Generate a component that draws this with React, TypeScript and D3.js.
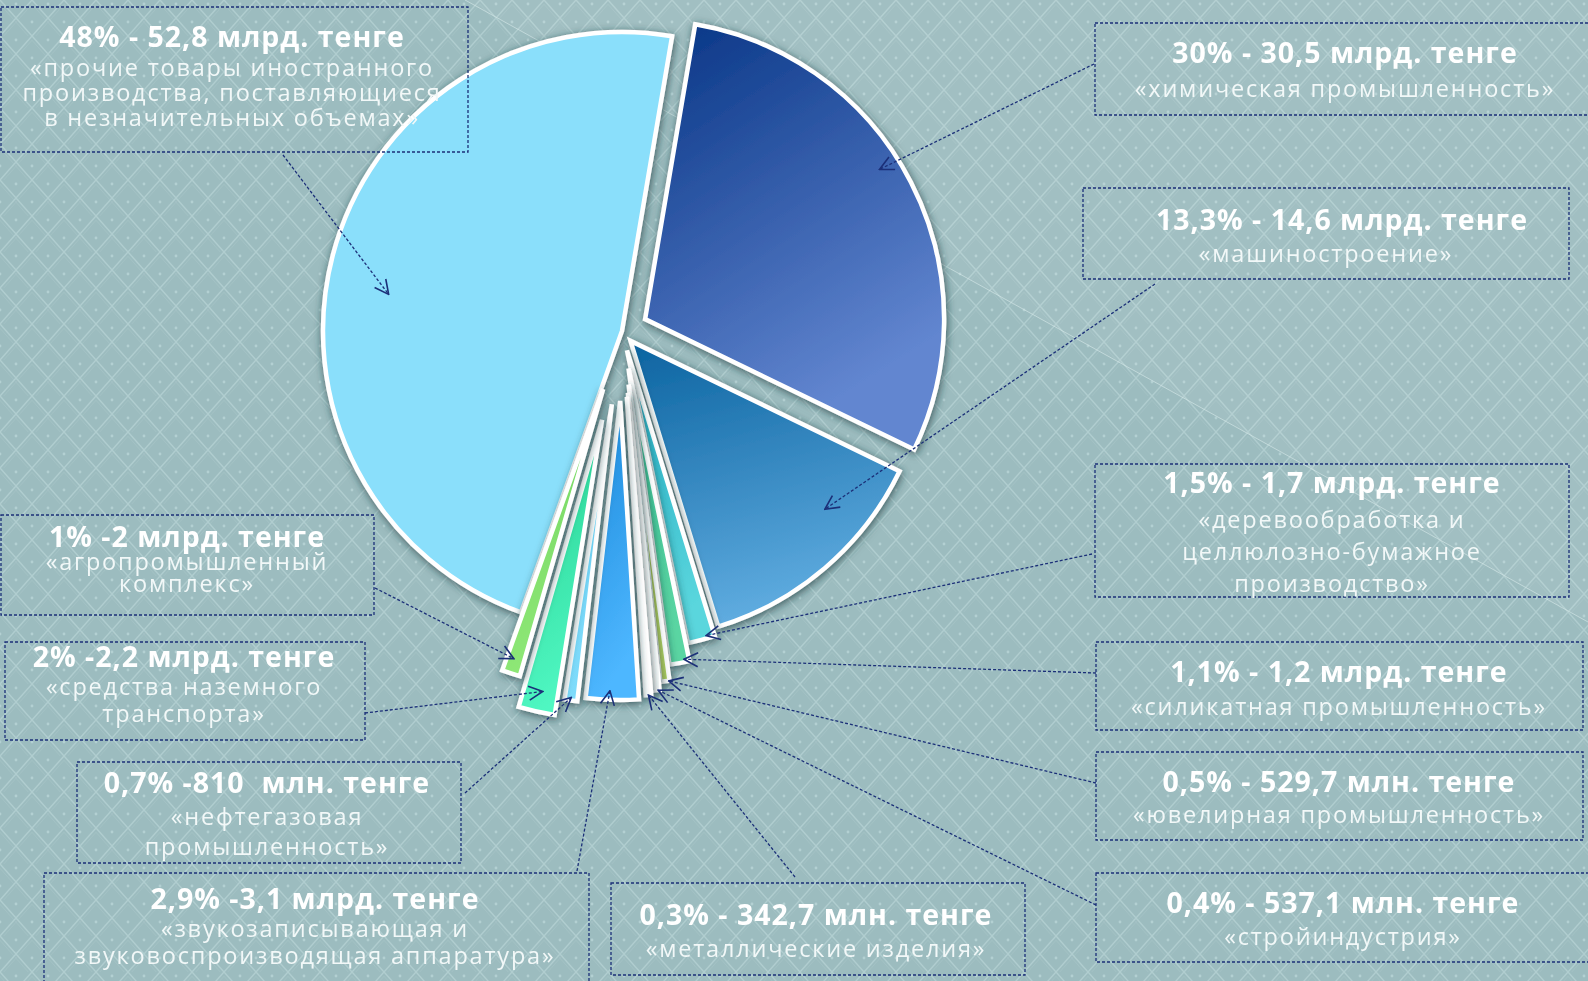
import React from 'react';
import * as d3 from 'd3';

const W = 1588;
const H = 981;

// ---- data ----
const categories = [
  'химическая промышленность',
  'машиностроение',
  'деревообработка и целлюлозно-бумажное производство',
  'силикатная промышленность',
  'ювелирная промышленность',
  'стройиндустрия',
  'металлические изделия',
  'звукозаписывающая и звуковоспроизводящая аппаратура',
  'нефтегазовая промышленность',
  'средства наземного транспорта',
  'агропромышленный комплекс',
  'прочие товары иностранного производства',
];
const percentValues = [30, 13.3, 1.5, 1.1, 0.5, 0.4, 0.3, 2.9, 0.7, 2, 1, 48];
const titleLabels = [
  '30% - 30,5 млрд. тенге',
  '13,3% - 14,6 млрд. тенге',
  '1,5% - 1,7 млрд. тенге',
  '1,1% - 1,2 млрд. тенге',
  '0,5% - 529,7 млн. тенге',
  '0,4% - 537,1 млн. тенге',
  '0,3% - 342,7 млн. тенге',
  '2,9% -3,1 млрд. тенге',
  '0,7% -810  млн. тенге',
  '2% -2,2 млрд. тенге',
  '1% -2 млрд. тенге',
  '48% - 52,8 млрд. тенге',
];
const descLines = [
  ['«химическая промышленность»'],
  ['«машиностроение»'],
  ['«деревообработка и', 'целлюлозно-бумажное', 'производство»'],
  ['«силикатная промышленность»'],
  ['«ювелирная промышленность»'],
  ['«стройиндустрия»'],
  ['«металлические изделия»'],
  ['«звукозаписывающая и', 'звуковоспроизводящая аппаратура»'],
  ['«нефтегазовая', 'промышленность»'],
  ['«средства наземного', 'транспорта»'],
  ['«агропромышленный', 'комплекс»'],
  ['«прочие товары иностранного', 'производства, поставляющиеся', 'в незначительных объемах»'],
];

// ---- styling / layout ----
const CX = 622;
const CY = 331;
const R = 299;
const START_DEG = 9.65;
const explode = [26, 13, 20, 38, 54, 62, 66, 70, 74, 91, 61, 0];
const gradStops: [string, string][] = [
  ['#0d3a8a', '#6286d0'],
  ['#0b63a0', '#5eabdf'],
  ['#1fa8c0', '#5ad6dd'],
  ['#36bd93', '#5ad5a2'],
  ['#9bbd44', '#b2cf5e'],
  ['#f6fbf4', '#ffffff'],
  ['#eef8fc', '#ffffff'],
  ['#1786d8', '#4eb7ff'],
  ['#63cdf5', '#7fdcfb'],
  ['#20cc8c', '#50f7c2'],
  ['#6ed25e', '#8fe877'],
  ['#8adffb', '#8adffb'],
];
const drawOrder = [11, 0, 1, 2, 3, 4, 5, 6, 7, 8, 9, 10];

type Box = {
  x: number; y: number; w: number; h: number;
  cx: number; titleY: number; descY: number[]; descCx?: number;
  from: [number, number]; tipFrac: number; tipR: number;
};
const boxes: Box[] = [
  { x: 1095, y: 23, w: 500, h: 92, cx: 1345, titleY: 63, descY: [97], from: [1094, 64], tipFrac: 0.45, tipR: 0.93 },
  { x: 1083, y: 188, w: 486, h: 91, cx: 1342, titleY: 230, descY: [262], descCx: 1326, from: [1155, 284], tipFrac: 0.32, tipR: 0.86 },
  { x: 1095, y: 464, w: 474, h: 133, cx: 1332, titleY: 493, descY: [528, 560, 592], from: [1092, 554], tipFrac: 0.3, tipR: 0.99 },
  { x: 1096, y: 642, w: 487, h: 88, cx: 1339, titleY: 682, descY: [715], from: [1096, 673], tipFrac: 0.25, tipR: 0.99 },
  { x: 1096, y: 752, w: 487, h: 88, cx: 1339, titleY: 792, descY: [823], from: [1096, 783], tipFrac: 0.1, tipR: 1.0 },
  { x: 1096, y: 873, w: 500, h: 89, cx: 1343, titleY: 913, descY: [945], from: [1096, 905], tipFrac: 0.2, tipR: 1.0 },
  { x: 611, y: 883, w: 414, h: 92, cx: 816, titleY: 925, descY: [957], from: [795, 877], tipFrac: 0.5, tipR: 1.0 },
  { x: 44, y: 873, w: 545, h: 120, cx: 315, titleY: 909, descY: [937, 964], from: [577, 871], tipFrac: 0.55, tipR: 0.97 },
  { x: 77, y: 762, w: 384, h: 101, cx: 267, titleY: 793, descY: [825, 855], from: [465, 793], tipFrac: 0.5, tipR: 0.99 },
  { x: 5, y: 642, w: 360, h: 98, cx: 184, titleY: 667, descY: [695, 722], from: [365, 713], tipFrac: 0.45, tipR: 0.93 },
  { x: 1, y: 515, w: 373, h: 100, cx: 187, titleY: 547, descY: [570, 592], from: [375, 588], tipFrac: 0.6, tipR: 0.95 },
  { x: 1, y: 7, w: 467, h: 145, cx: 232, titleY: 47, descY: [76, 101, 126], from: [283, 155], tipFrac: 0.466, tipR: 0.79 },
];

const FONT = '"Open Sans", "DejaVu Sans", sans-serif';
const LINE = '#1b2f78';

export default function App() {
  const pie = d3
    .pie<number>()
    .sort(null)
    .value((d) => d)
    .startAngle((START_DEG * Math.PI) / 180)
    .endAngle((START_DEG * Math.PI) / 180 + 2 * Math.PI);
  const arcs = pie(percentValues);
  const arc = d3.arc<d3.PieArcDatum<number>>().innerRadius(0).outerRadius(R);

  const centers = arcs.map((a, i) => {
    const mid = (a.startAngle + a.endAngle) / 2;
    return [CX + explode[i] * Math.sin(mid), CY - explode[i] * Math.cos(mid)];
  });

  const tips = arcs.map((a, i) => {
    const b = boxes[i];
    const ang = a.startAngle + b.tipFrac * (a.endAngle - a.startAngle);
    const r = R * b.tipR;
    return [centers[i][0] + r * Math.sin(ang), centers[i][1] - r * Math.cos(ang)];
  });

  return (
    <svg
      width={W}
      height={H}
      style={{ position: 'fixed', left: 0, top: 0, display: 'block' }}
      fontFamily={FONT}
    >
      <defs>
        <pattern id="bgpat" width="32" height="36" patternUnits="userSpaceOnUse">
          <rect width="32" height="36" fill="#9cbcbf" />
          <path d="M0,0 L32,36 M32,0 L0,36" stroke="#b7d3d5" strokeWidth="1.4" opacity="0.75" />
          <path d="M-2,2 L30,38 M34,2 L2,38" stroke="#a9c7c9" strokeWidth="0.8" opacity="0.6" />
          <circle cx="16" cy="4" r="1.4" fill="#b9d5d7" opacity="0.8" />
          <circle cx="0" cy="22" r="1.4" fill="#b9d5d7" opacity="0.8" />
          <circle cx="32" cy="22" r="1.4" fill="#b9d5d7" opacity="0.8" />
        </pattern>
        <filter id="shadow" x="-30%" y="-30%" width="160%" height="160%">
          <feDropShadow dx="1" dy="2" stdDeviation="4" floodColor="#1f3b3d" floodOpacity="0.75" />
        </filter>
        {gradStops.map((g, i) =>
          i === 0 ? (
            <linearGradient key={i} id={`g${i}`} x1="0.2" y1="0" x2="0.6" y2="0.9">
              <stop offset="0" stopColor={g[0]} />
              <stop offset="1" stopColor={g[1]} />
            </linearGradient>
          ) : (
            <linearGradient key={i} id={`g${i}`} x1="0" y1="0" x2="0.25" y2="1">
              <stop offset="0" stopColor={g[0]} />
              <stop offset="1" stopColor={g[1]} />
            </linearGradient>
          )
        )}
        <marker
          id="arrow"
          viewBox="0 0 16 16"
          refX="15"
          refY="8"
          markerWidth="16"
          markerHeight="16"
          markerUnits="userSpaceOnUse"
          orient="auto"
        >
          <path d="M1,1 L15,8 L1,15" fill="none" stroke={LINE} strokeWidth="1.6" />
        </marker>
      </defs>

      <rect width={W} height={H} fill="url(#bgpat)" />
      <polygon points={`465,0 ${W},0 ${W},622`} fill="#ffffff" opacity="0.06" />
      <line x1={465} y1={0} x2={W} y2={622} stroke="#d8eaea" strokeWidth="1" opacity="0.6" />

      <g>
        {drawOrder.map((i) => (
          <path
            key={categories[i]}
            d={arc(arcs[i]) || ''}
            transform={`translate(${centers[i][0]},${centers[i][1]})`}
            fill={`url(#g${i})`}
            stroke="#ffffff"
            strokeWidth={4.5}
            strokeLinejoin="miter"
            filter="url(#shadow)"
          />
        ))}
      </g>

      <g>
        {boxes.map((b, i) => (
          <g key={i}>
            <rect
              x={b.x}
              y={b.y}
              width={b.w}
              height={b.h}
              fill="none"
              stroke={LINE}
              strokeWidth={1.3}
              strokeDasharray="3,2"
            />
            <text
              x={b.cx}
              y={b.titleY}
              textAnchor="middle"
              fill="#ffffff"
              fontWeight="bold"
              fontSize={28.5}
              letterSpacing={1}
              style={{ whiteSpace: 'pre' }}
            >
              {titleLabels[i]}
            </text>
            {descLines[i].map((ln, j) => (
              <text
                key={j}
                x={b.descCx ?? b.cx}
                y={b.descY[j]}
                textAnchor="middle"
                fill="#f2f8f8"
                fontSize={23.5}
                letterSpacing={1.8}
              >
                {ln}
              </text>
            ))}
            <line
              x1={b.from[0]}
              y1={b.from[1]}
              x2={tips[i][0]}
              y2={tips[i][1]}
              stroke={LINE}
              strokeWidth={1.3}
              strokeDasharray="3,2"
              markerEnd="url(#arrow)"
            />
          </g>
        ))}
      </g>
    </svg>
  );
}
